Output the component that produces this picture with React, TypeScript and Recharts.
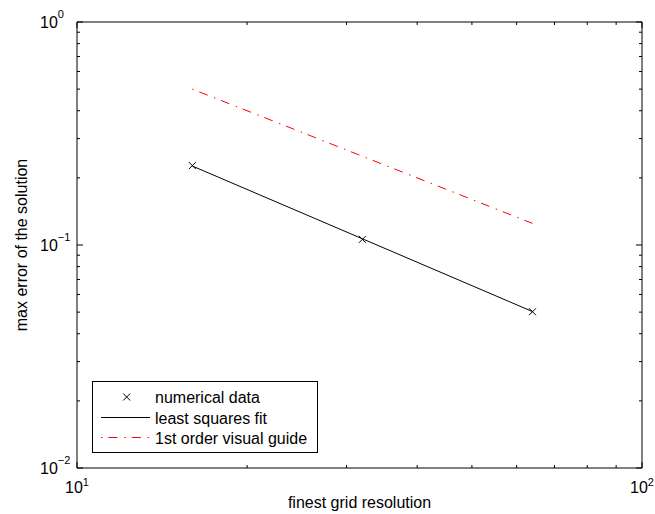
import React from 'react';
import { ComposedChart, Line, XAxis, YAxis, Legend } from 'recharts';

// grid resolutions and measured max errors
const resolutions = [16, 32, 64];
const maxErrors = [0.227, 0.106, 0.0502];

// least squares fit, drawn between first and last resolution
const fitResolutions = [16, 64];
const fitErrors = [0.226, 0.0503];

// 1st order reference slope
const guideResolutions = [16, 64];
const guideErrors = [0.5, 0.125];

const xTicks = [10, 20, 30, 40, 50, 60, 70, 80, 90, 100];
const yTicks = [0.01, 0.02, 0.03, 0.04, 0.05, 0.06, 0.07, 0.08, 0.09, 0.1, 0.2, 0.3, 0.4, 0.5, 0.6, 0.7, 0.8, 0.9, 1];

const legendLabels = ['numerical data', 'least squares fit', '1st order visual guide'];

const FONT = '"Liberation Sans", Arial, Helvetica, sans-serif';
const GUIDE_DASH = '1.5 6 9 6.8';

const pointsData = resolutions.map((x, i) => ({ x, y: maxErrors[i] }));
const fitData = fitResolutions.map((x, i) => ({ x, y: fitErrors[i] }));
const guideData = guideResolutions.map((x, i) => ({ x, y: guideErrors[i] }));

const isDecade = (v: number) => Math.abs(Math.log10(v) - Math.round(Math.log10(v))) < 1e-6;
const expText = (v: number) => {
  const e = Math.round(Math.log10(v));
  return e < 0 ? `\u2212${-e}` : `${e}`;
};

const BottomTick = (props: any) => {
  const { x, y, payload } = props;
  const major = isDecade(payload.value);
  return (
    <g>
      <line x1={x} x2={x} y1={y} y2={y - (major ? 6 : 3)} stroke="#000" />
      {major && (
        <text x={x} y={y + 25} textAnchor="middle" fontSize={16} fontFamily={FONT} fill="#000">
          10<tspan dy={-7} fontSize={11}>{expText(payload.value)}</tspan>
        </text>
      )}
    </g>
  );
};

const TopTick = (props: any) => {
  const { x, y, payload } = props;
  const major = isDecade(payload.value);
  return <line x1={x} x2={x} y1={y} y2={y + (major ? 6 : 3)} stroke="#000" />;
};

const LeftTick = (props: any) => {
  const { x, y, payload } = props;
  const major = isDecade(payload.value);
  return (
    <g>
      <line x1={x} x2={x + (major ? 6 : 3)} y1={y} y2={y} stroke="#000" />
      {major && (
        <text x={x - 37} y={y + 6} textAnchor="start" fontSize={16} fontFamily={FONT} fill="#000">
          10<tspan dy={-10} fontSize={11}>{expText(payload.value)}</tspan>
        </text>
      )}
    </g>
  );
};

const RightTick = (props: any) => {
  const { x, y, payload } = props;
  const major = isDecade(payload.value);
  return <line x1={x} x2={x - (major ? 6 : 3)} y1={y} y2={y} stroke="#000" />;
};

const CrossDot = (props: any) => {
  const { cx, cy, index } = props;
  if (cx == null || cy == null) return <g key={index} />;
  const s = 3.5;
  return (
    <path
      key={index}
      d={`M${cx - s},${cy - s}L${cx + s},${cy + s}M${cx - s},${cy + s}L${cx + s},${cy - s}`}
      stroke="#000"
      strokeWidth={1}
      fill="none"
    />
  );
};

const LegendBox = () => {
  const rowY = [15.5, 36.5, 56.5];
  return (
    <svg width={226} height={73} style={{ display: 'block' }}>
      <rect x={0.5} y={0.5} width={225} height={71} fill="#fff" stroke="#000" />
      <path d={`M31.2,${rowY[0] - 3}L38.2,${rowY[0] + 4}M31.2,${rowY[0] + 4}L38.2,${rowY[0] - 3}`} stroke="#000" fill="none" />
      <line x1={9} x2={58} y1={rowY[1]} y2={rowY[1]} stroke="#000" />
      <line x1={9} x2={58} y1={rowY[2]} y2={rowY[2]} stroke="#f00" strokeDasharray={GUIDE_DASH} />
      {legendLabels.map((t, i) => (
        <text key={t} x={63} y={rowY[i] + 6} fontSize={16} fontFamily={FONT} fill="#000">
          {t}
        </text>
      ))}
    </svg>
  );
};

export default function App() {
  return (
    <div style={{ position: 'absolute', left: 0, top: 0, background: '#fff' }}>
      <ComposedChart width={655} height={514} margin={{ top: 21, right: 12, bottom: 0, left: 0 }}>
        <XAxis
          xAxisId="bottom"
          dataKey="x"
          type="number"
          scale="log"
          domain={[10, 100]}
          allowDataOverflow
          ticks={xTicks}
          interval={0}
          height={46}
          tickSize={0}
          tickMargin={0}
          tickLine={false}
          axisLine={{ stroke: '#000' }}
          tick={<BottomTick />}
          label={{
            content: ({ viewBox }: any) => (
              <text
                x={viewBox.x + viewBox.width / 2}
                y={viewBox.y + 40}
                textAnchor="middle"
                fontSize={16}
                fontFamily={FONT}
                fill="#000"
              >
                finest grid resolution
              </text>
            ),
          }}
        />
        <XAxis
          xAxisId="top"
          orientation="top"
          dataKey="x"
          type="number"
          scale="log"
          domain={[10, 100]}
          allowDataOverflow
          ticks={xTicks}
          interval={0}
          height={1}
          tickSize={0}
          tickMargin={0}
          tickLine={false}
          axisLine={{ stroke: '#000' }}
          tick={<TopTick />}
        />
        <YAxis
          yAxisId="left"
          type="number"
          scale="log"
          domain={[0.01, 1]}
          allowDataOverflow
          ticks={yTicks}
          interval={0}
          width={77}
          tickSize={0}
          tickMargin={0}
          tickLine={false}
          axisLine={{ stroke: '#000' }}
          tick={<LeftTick />}
          label={{
            content: ({ viewBox }: any) => (
              <text
                transform={`translate(${viewBox.x + 27},${viewBox.y + viewBox.height / 2}) rotate(-90)`}
                textAnchor="middle"
                fontSize={16}
                fontFamily={FONT}
                fill="#000"
              >
                max error of the solution
              </text>
            ),
          }}
        />
        <YAxis
          yAxisId="right"
          orientation="right"
          type="number"
          scale="log"
          domain={[0.01, 1]}
          allowDataOverflow
          ticks={yTicks}
          interval={0}
          width={1}
          tickSize={0}
          tickMargin={0}
          tickLine={false}
          axisLine={{ stroke: '#000' }}
          tick={<RightTick />}
        />
        <Legend
          layout="horizontal"
          verticalAlign="middle"
          align="center"
          wrapperStyle={{ left: 92, top: 381, width: 226, height: 73 }}
          content={() => <LegendBox />}
        />
        {/* invisible series so the top/right frame axes are in use */}
        <Line
          xAxisId="top"
          yAxisId="right"
          data={pointsData}
          dataKey="y"
          stroke="none"
          dot={false}
          activeDot={false}
          legendType="none"
          isAnimationActive={false}
        />
        <Line
          xAxisId="bottom"
          yAxisId="left"
          data={guideData}
          dataKey="y"
          name="1st order visual guide"
          stroke="#f00"
          strokeWidth={1}
          strokeDasharray={GUIDE_DASH}
          dot={false}
          activeDot={false}
          isAnimationActive={false}
        />
        <Line
          xAxisId="bottom"
          yAxisId="left"
          data={fitData}
          dataKey="y"
          name="least squares fit"
          stroke="#000"
          strokeWidth={1}
          dot={false}
          activeDot={false}
          isAnimationActive={false}
        />
        <Line
          xAxisId="bottom"
          yAxisId="left"
          data={pointsData}
          dataKey="y"
          name="numerical data"
          stroke="none"
          dot={<CrossDot />}
          activeDot={false}
          isAnimationActive={false}
        />
      </ComposedChart>
    </div>
  );
}
